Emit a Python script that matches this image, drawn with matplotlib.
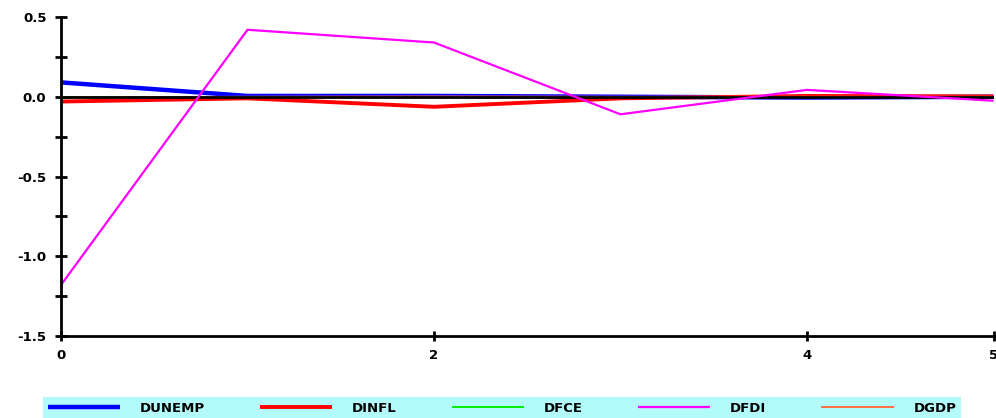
import matplotlib
matplotlib.use("Agg")
import matplotlib.pyplot as plt

plt.rcParams['font.family'] = ['DejaVu Sans']
plt.rcParams['font.weight'] = 'bold'

# impulse responses, periods 0..5
periods = [0, 1, 2, 3, 4, 5]
dunemp = [0.09, 0.005, 0.005, 0.0, -0.005, 0.0]
dinfl = [-0.03, -0.01, -0.063, -0.01, 0.005, 0.002]
dfce = [0.0, 0.0, 0.0, 0.0, 0.0, 0.0]
dfdi = [-1.18, 0.42, 0.34, -0.11, 0.043, -0.025]
dgdp = [-0.005, 0.0, 0.002, 0.0, 0.0, 0.0]

series_names = ["DUNEMP", "DINFL", "DFCE", "DFDI", "DGDP"]
series_vals = [dunemp, dinfl, dfce, dfdi, dgdp]
colors = ["#0000ff", "#ff0000", "#00ee00", "#ff00ff", "#ff7040"]
widths = [3.2, 2.8, 1.4, 1.6, 1.4]
zorders = [2, 2, 3, 5, 3]

xticks = [0, 2, 4, 5]
yticks = [-1.5, -1.0, -0.5, 0.0, 0.5]
yminor = [-1.25, -0.75, -0.25, 0.25]

fig = plt.figure(figsize=(9.96, 4.18), dpi=100)
ax = fig.add_axes([61/996, 1-336/418, (993.5-61)/996, (336-17)/418])

lines = []
for name, vals, c, w, z in zip(series_names, series_vals, colors, widths, zorders):
    ln, = ax.plot(periods, vals, color=c, lw=w, label=name, zorder=z,
                  solid_capstyle='butt')
    lines.append(ln)

ax.axhline(0, color='black', lw=2, zorder=4)

ax.set_xlim(0, 5)
ax.set_ylim(-1.5, 0.5)
ax.set_xticks(xticks)
ax.set_xticklabels([str(t) for t in xticks])
ax.set_yticks(yticks)
ax.set_yticklabels(["%.1f" % t for t in yticks])
ax.set_yticks(yminor, minor=True)

for s in ['top', 'right']:
    ax.spines[s].set_visible(False)
for s in ['left', 'bottom']:
    ax.spines[s].set_linewidth(2)
    ax.spines[s].set_zorder(6)

ax.tick_params(axis='both', which='both', direction='inout', width=2,
               labelsize=9.5, colors='black')
ax.tick_params(axis='y', which='both', length=9, pad=6)
ax.tick_params(axis='x', which='major', length=7, pad=6)
for lab in ax.get_xticklabels() + ax.get_yticklabels():
    lab.set_fontweight('bold')

leg = fig.legend(handles=lines, labels=series_names, ncol=5, loc='upper left',
                 bbox_to_anchor=(43/996, 21/418, (961-43)/996, 0.0),
                 mode='expand', borderaxespad=0, fancybox=False, frameon=True,
                 facecolor='#b3fafa', edgecolor='#b3fafa', framealpha=1,
                 handlelength=5.5, handletextpad=1.5, borderpad=0.35,
                 prop={'weight': 'bold', 'size': 9.5})
leg.get_frame().set_linewidth(0)

fig.savefig("out.png", dpi=100)
